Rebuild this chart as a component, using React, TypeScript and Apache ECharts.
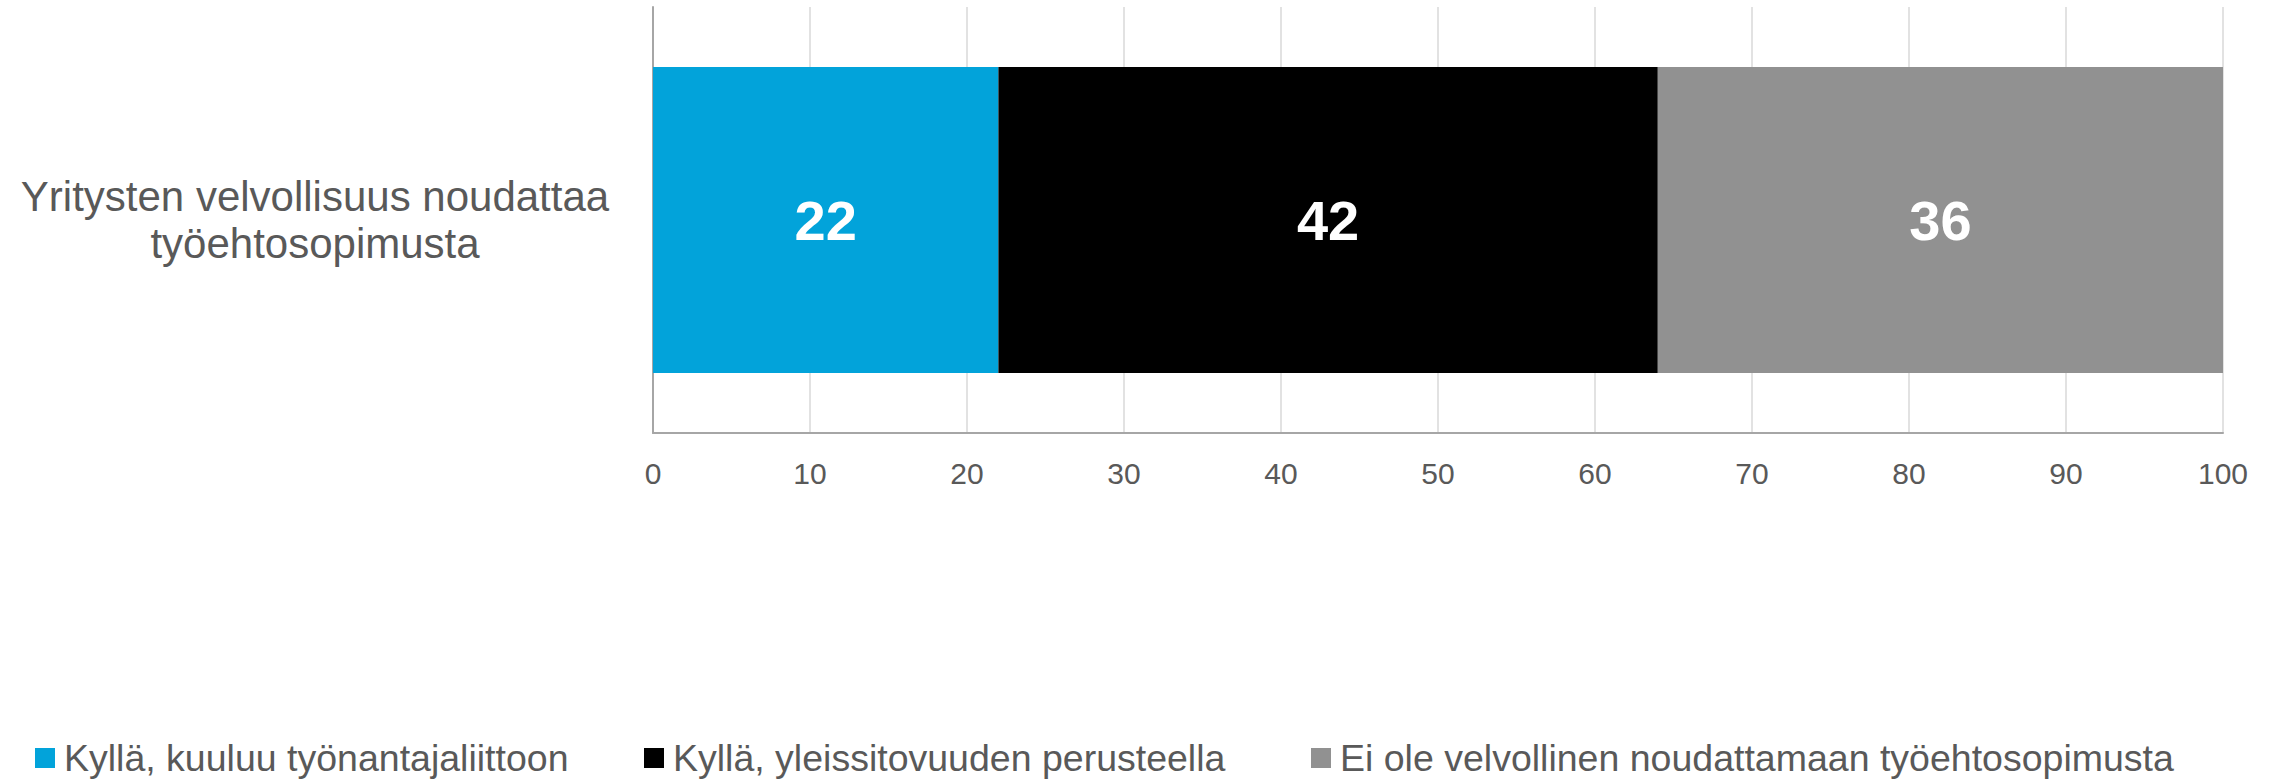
import React, { useEffect, useRef } from "react";
import * as echarts from "echarts";

const categories = ["Yritysten velvollisuus noudattaa\ntyöehtosopimusta"];
const seriesNames = [
  "Kyllä, kuuluu työnantajaliittoon",
  "Kyllä, yleissitovuuden perusteella",
  "Ei ole velvollinen noudattamaan työehtosopimusta",
];
const valuesMember = [22];
const valuesGeneral = [42];
const valuesNotBound = [36];
const seriesColors = ["#02A3DA", "#000000", "#919191"];
const xTicks = { min: 0, max: 100, interval: 10 };
const legendLefts = [35, 644, 1311];

const FONT = "'Liberation Sans', Arial, sans-serif";

export default function App() {
  const ref = useRef<HTMLDivElement>(null);
  useEffect(() => {
    if (!ref.current) return;
    const chart = echarts.init(ref.current, undefined, { renderer: "svg" });
    const data = [valuesMember, valuesGeneral, valuesNotBound];
    chart.setOption({
      animation: false,
      textStyle: { fontFamily: FONT },
      grid: { left: 653, right: 56, top: 7, bottom: 348, containLabel: false },
      legend: seriesNames.map((name, i) => ({
        data: [name],
        left: legendLefts[i],
        top: 739,
        padding: 0,
        icon: "rect",
        itemWidth: 20,
        itemHeight: 20,
        textStyle: { fontSize: 37.5, color: "#595959", fontFamily: FONT, padding: [0, 0, 0, 4] },
      })),
      xAxis: {
        type: "value",
        min: xTicks.min,
        max: xTicks.max,
        interval: xTicks.interval,
        axisLine: { show: true, lineStyle: { color: "#A6A6A6", width: 2 } },
        axisTick: { show: false },
        splitLine: { show: true, lineStyle: { color: "#D9D9D9", width: 1.5 } },
        axisLabel: { fontSize: 30, color: "#595959", margin: 25, fontFamily: FONT },
      },
      yAxis: {
        type: "category",
        data: categories,
        axisLine: { show: true, lineStyle: { color: "#A6A6A6", width: 2 } },
        axisTick: { show: false },
        axisLabel: {
          fontSize: 42,
          color: "#595959",
          align: "center",
          margin: 338,
          lineHeight: 47,
          fontFamily: FONT,
        },
      },
      series: seriesNames.map((name, i) => ({
        name,
        type: "bar",
        stack: "total",
        barWidth: 306,
        data: data[i],
        itemStyle: { color: seriesColors[i] },
        label: {
          show: true,
          position: "inside",
          color: "#FFFFFF",
          fontWeight: "bold",
          fontSize: 56,
          fontFamily: FONT,
        },
      })),
    });
    return () => chart.dispose();
  }, []);
  return (
    <div
      ref={ref}
      style={{ position: "absolute", left: 0, top: 0, width: 2279, height: 781, background: "#fff" }}
    />
  );
}
